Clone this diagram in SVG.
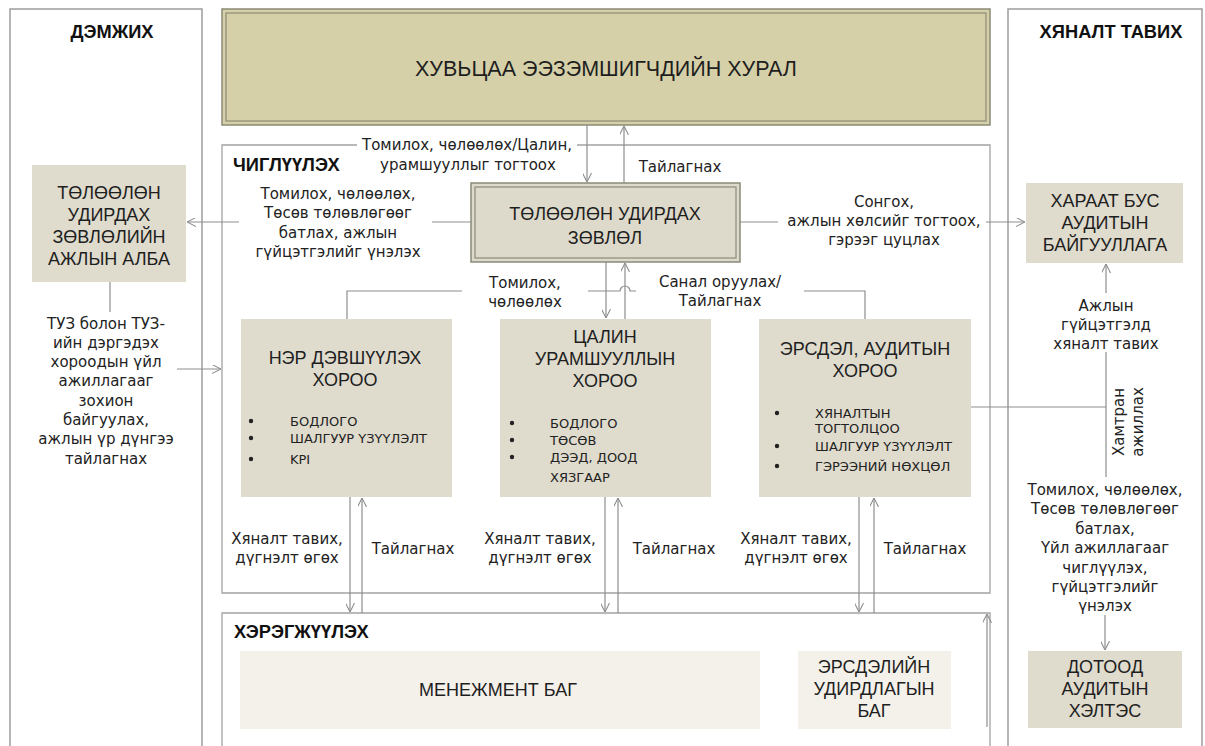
<svg xmlns="http://www.w3.org/2000/svg" width="1205" height="746" viewBox="0 0 1205 746">
<style>
.lbl{font-family:"DejaVu Sans",Verdana,sans-serif;font-size:15px;fill:#222;text-anchor:middle}
.bt{font-family:"Liberation Sans",Arial,sans-serif;font-size:18px;fill:#1e1e1e;text-anchor:middle}
.hd{font-family:"Liberation Sans",Arial,sans-serif;font-weight:bold;font-size:18.3px;fill:#111}
.bl{font-family:"DejaVu Sans",Verdana,sans-serif;font-size:13px;fill:#222}
.cn{fill:none;stroke:#8e8e8e;stroke-width:1.2}
.col{fill:#fff;stroke:#9d9d9d;stroke-width:1.5}
.frame{fill:none;stroke:#a3a3a3;stroke-width:1.3}
.box{fill:#dfdbcd}
.light{fill:#f4f1ea}
.dot{fill:#222}
</style>
<defs>
<marker id="ah" viewBox="0 0 10 10" refX="10" refY="5" markerWidth="9" markerHeight="9" orient="auto" markerUnits="userSpaceOnUse">
<path d="M0,0 L10,5 L0,10" fill="none" stroke="#8e8e8e" stroke-width="1.2"/>
</marker>
</defs>
<rect width="1205" height="746" fill="#fff"/>

<g id="col-support">
<rect class="col" x="10" y="9" width="192" height="770"/>
<text class="hd" x="112" y="38" text-anchor="middle">ДЭМЖИХ</text>
</g>
<g id="col-monitor">
<rect class="col" x="1008" y="9" width="194" height="770"/>
<text class="hd" x="1111" y="38" text-anchor="middle">ХЯНАЛТ ТАВИХ</text>
</g>

<g id="shareholders">
<rect x="222" y="9" width="768" height="116" fill="#d6d0a9" stroke="#8a8a76" stroke-width="1.5"/>
<rect x="226" y="13" width="760" height="108" fill="none" stroke="#8a8a76" stroke-width="1.2"/>
<text class="bt" x="606" y="76" style="font-size:21.5px">ХУВЬЦАА ЭЭЗЭМШИГЧДИЙН ХУРАЛ</text>
</g>

<g id="directing">
<path class="frame" d="M357,145 H222 V593 H990 V145 H577"/>
<text class="hd" x="233" y="171">ЧИГЛҮҮЛЭХ</text>
</g>

<g id="implementing">
<path class="frame" d="M222,770 V613 H990 V770"/>
<text class="hd" x="234" y="638">ХЭРЭГЖҮҮЛЭХ</text>
</g>

<g id="board">
<rect x="471" y="183" width="269" height="79" fill="#dedacb" stroke="#8a8a7a" stroke-width="1.5"/>
<rect x="475" y="187" width="261" height="71" fill="none" stroke="#8a8a7a" stroke-width="1.2"/>
<text class="bt" x="605" y="220">ТӨЛӨӨЛӨН УДИРДАХ</text>
<text class="bt" x="605" y="244">ЗӨВЛӨЛ</text>
</g>

<g id="board-office">
<rect class="box" x="32" y="165" width="154" height="117"/>
<text class="bt" x="109" y="199">ТӨЛӨӨЛӨН</text>
<text class="bt" x="109" y="221">УДИРДАХ</text>
<text class="bt" x="109" y="243">ЗӨВЛӨЛИЙН</text>
<text class="bt" x="109" y="265">АЖЛЫН АЛБА</text>
</g>

<g id="external-audit">
<rect class="box" x="1026" y="183" width="157" height="80"/>
<text class="bt" x="1105" y="207">ХАРААТ БУС</text>
<text class="bt" x="1105" y="229">АУДИТЫН</text>
<text class="bt" x="1105" y="251">БАЙГУУЛЛАГА</text>
</g>

<g id="nomination">
<rect class="box" x="241" y="319" width="211" height="178"/>
<text class="bt" x="345" y="364">НЭР ДЭВШҮҮЛЭХ</text>
<text class="bt" x="345" y="386">ХОРОО</text>
<circle class="dot" cx="251" cy="421" r="2.2"/>
<circle class="dot" cx="251" cy="438" r="2.2"/>
<circle class="dot" cx="251" cy="459" r="2.2"/>
<text class="bl" x="290" y="426">БОДЛОГО</text>
<text class="bl" x="290" y="443">ШАЛГУУР ҮЗҮҮЛЭЛТ</text>
<text class="bl" x="290" y="464">KPI</text>
</g>

<g id="remuneration">
<rect class="box" x="500" y="319" width="211" height="178"/>
<text class="bt" x="605" y="343">ЦАЛИН</text>
<text class="bt" x="605" y="365">УРАМШУУЛЛЫН</text>
<text class="bt" x="605" y="387">ХОРОО</text>
<circle class="dot" cx="512" cy="423" r="2.2"/>
<circle class="dot" cx="512" cy="440" r="2.2"/>
<circle class="dot" cx="512" cy="457" r="2.2"/>
<text class="bl" x="550" y="428">БОДЛОГО</text>
<text class="bl" x="550" y="445">ТӨСӨВ</text>
<text class="bl" x="550" y="462">ДЭЭД, ДООД</text>
<text class="bl" x="550" y="482">ХЯЗГААР</text>
</g>

<g id="risk-audit">
<rect class="box" x="759" y="319" width="212" height="178"/>
<text class="bt" x="865" y="355">ЭРСДЭЛ, АУДИТЫН</text>
<text class="bt" x="865" y="377">ХОРОО</text>
<circle class="dot" cx="777" cy="413" r="2.2"/>
<circle class="dot" cx="777" cy="446" r="2.2"/>
<circle class="dot" cx="777" cy="466" r="2.2"/>
<text class="bl" x="815" y="418">ХЯНАЛТЫН</text>
<text class="bl" x="815" y="433">ТОГТОЛЦОО</text>
<text class="bl" x="815" y="451">ШАЛГУУР ҮЗҮҮЛЭЛТ</text>
<text class="bl" x="815" y="471">ГЭРЭЭНИЙ НӨХЦӨЛ</text>
</g>

<g id="management">
<rect class="light" x="240" y="651" width="520" height="78"/>
<text class="bt" x="498" y="696">МЕНЕЖМЕНТ БАГ</text>
</g>

<g id="risk-team">
<rect class="light" x="798" y="651" width="153" height="78"/>
<text class="bt" x="874" y="673">ЭРСДЭЛИЙН</text>
<text class="bt" x="874" y="695">УДИРДЛАГЫН</text>
<text class="bt" x="874" y="717">БАГ</text>
</g>

<g id="internal-audit">
<rect class="box" x="1028" y="651" width="154" height="77"/>
<text class="bt" x="1105" y="673">ДОТООД</text>
<text class="bt" x="1105" y="695">АУДИТЫН</text>
<text class="bt" x="1105" y="717">ХЭЛТЭС</text>
</g>

<g id="connectors">
<path class="cn" d="M587,125 V182" marker-end="url(#ah)"/>
<path class="cn" d="M624,183 V126" marker-end="url(#ah)"/>
<path class="cn" d="M471,222 H432"/>
<path class="cn" d="M239,222 H187" marker-end="url(#ah)"/>
<path class="cn" d="M740,222 H778"/>
<path class="cn" d="M986,222 H1025" marker-end="url(#ah)"/>
<path class="cn" d="M606,262 V318" marker-end="url(#ah)"/>
<path class="cn" d="M625,319 V263" marker-end="url(#ah)"/>
<path class="cn" d="M347,319 V291 H462"/>
<path class="cn" d="M588,291 H620 A5,5 0 0 1 630,291 H636"/>
<path class="cn" d="M804,291 H865 V319"/>
<path class="cn" d="M110,282 V312"/>
<path class="cn" d="M177,369 H221" marker-end="url(#ah)"/>
<path class="cn" d="M350,497 V612" marker-end="url(#ah)"/>
<path class="cn" d="M362,613 V498" marker-end="url(#ah)"/>
<path class="cn" d="M605,497 V612" marker-end="url(#ah)"/>
<path class="cn" d="M618,613 V498" marker-end="url(#ah)"/>
<path class="cn" d="M859,497 V612" marker-end="url(#ah)"/>
<path class="cn" d="M874,613 V498" marker-end="url(#ah)"/>
<path class="cn" d="M971,407 H1106"/>
<path class="cn" d="M1106,293 V264" marker-end="url(#ah)"/>
<path class="cn" d="M1106,352 V477"/>
<path class="cn" d="M1105,615 V650" marker-end="url(#ah)"/>
<path class="cn" d="M987,727 V614" marker-end="url(#ah)"/>

<text class="lbl" x="467" y="150">Томилох, чөлөөлөх/Цалин,</text>
<text class="lbl" x="468" y="170">урамшууллыг тогтоох</text>
<text class="lbl" x="680" y="172">Тайлагнах</text>

<text class="lbl" x="338" y="199">Томилох, чөлөөлөх,</text>
<text class="lbl" x="338" y="218">Төсөв төлөвлөгөөг</text>
<text class="lbl" x="338" y="238">батлах, ажлын</text>
<text class="lbl" x="338" y="257">гүйцэтгэлийг үнэлэх</text>

<text class="lbl" x="884" y="207">Сонгох,</text>
<text class="lbl" x="884" y="226">ажлын хөлсийг тогтоох,</text>
<text class="lbl" x="884" y="245">гэрээг цуцлах</text>

<text class="lbl" x="525" y="288">Томилох,</text>
<text class="lbl" x="525" y="307">чөлөөлөх</text>
<text class="lbl" x="720" y="287">Санал оруулах/</text>
<text class="lbl" x="720" y="306">Тайлагнах</text>

<text class="lbl" x="106" y="329">ТУЗ болон ТУЗ-</text>
<text class="lbl" x="106" y="348">ийн дэргэдэх</text>
<text class="lbl" x="106" y="367">хороодын үйл</text>
<text class="lbl" x="106" y="386">ажиллагааг</text>
<text class="lbl" x="106" y="406">зохион</text>
<text class="lbl" x="106" y="425">байгуулах,</text>
<text class="lbl" x="106" y="444">ажлын үр дүнгээ</text>
<text class="lbl" x="106" y="464">тайлагнах</text>

<text class="lbl" x="287" y="544">Хяналт тавих,</text>
<text class="lbl" x="287" y="563">дүгнэлт өгөх</text>
<text class="lbl" x="413" y="554">Тайлагнах</text>
<text class="lbl" x="540" y="544">Хяналт тавих,</text>
<text class="lbl" x="540" y="563">дүгнэлт өгөх</text>
<text class="lbl" x="674" y="554">Тайлагнах</text>
<text class="lbl" x="796" y="544">Хяналт тавих,</text>
<text class="lbl" x="796" y="563">дүгнэлт өгөх</text>
<text class="lbl" x="925" y="554">Тайлагнах</text>

<text class="lbl" x="1106" y="311">Ажлын</text>
<text class="lbl" x="1106" y="330">гүйцэтгэлд</text>
<text class="lbl" x="1106" y="349">хяналт тавих</text>
<text class="lbl" transform="translate(1123.5,422) rotate(-90)">Хамтран</text>
<text class="lbl" transform="translate(1142.5,422) rotate(-90)">ажиллах</text>

<text class="lbl" x="1105" y="495">Томилох, чөлөөлөх,</text>
<text class="lbl" x="1105" y="514">Төсөв төлөвлөгөөг</text>
<text class="lbl" x="1105" y="534">батлах,</text>
<text class="lbl" x="1105" y="553">Үйл ажиллагааг</text>
<text class="lbl" x="1105" y="573">чиглүүлэх,</text>
<text class="lbl" x="1105" y="592">гүйцэтгэлийг</text>
<text class="lbl" x="1105" y="611">үнэлэх</text>
</g>
</svg>
